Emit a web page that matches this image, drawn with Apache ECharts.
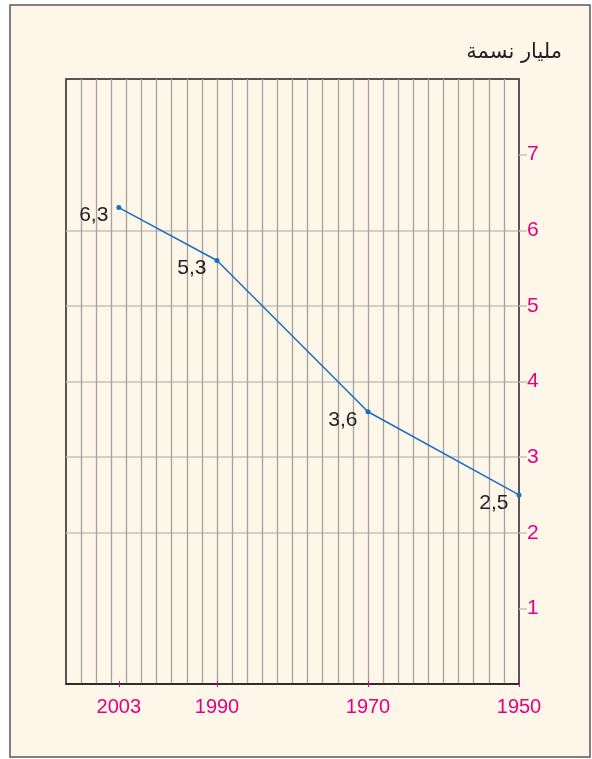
<!DOCTYPE html>
<html>
<head>
<meta charset="utf-8">
<script src="https://cdn.jsdelivr.net/npm/echarts@6/dist/echarts.min.js"></script>
<style>
  html, body { margin: 0; padding: 0; background: #fff; }
  #main { width: 592px; height: 759px; }
</style>
</head>
<body>
<div id="main"></div>
<script>
// Data
var years = [2003, 1990, 1970, 1950];
var population = [6.3, 5.6, 3.6, 2.5];
var pointLabels = ['6,3', '5,3', '3,6', '2,5'];
var yTicks = [1, 2, 3, 4, 5, 6, 7];
var unitText = 'مليار نسمة';

var magenta = '#e5007d';
var ink = '#231f20';

var myChart = echarts.init(document.getElementById('main'));

// shared x range: 1950 on the right, 2010 at the left edge
function yearAxis(extra) {
	var base = {
		type: 'value',
		min: 1950,
		max: 2010,
		interval: 2,
		inverse: true,
		position: 'bottom',
		axisLine: { show: false },
		axisTick: { show: false },
		axisLabel: { show: false },
		splitLine: { show: false }
	};
	for (var k in extra) base[k] = extra[k];
	return base;
}

var option = {
	backgroundColor: '#fff',
	animation: false,
	graphic: [{
		type: 'rect',
		z: -10,
		shape: { x: 10, y: 5, width: 580, height: 752 },
		style: { fill: '#fdf6e9', stroke: '#5a5758', lineWidth: 1.5 }
	}],
	title: {
		text: unitText,
		right: 25,
		top: 37,
		textStyle: {
			color: ink,
			fontSize: 21,
			fontWeight: 'normal',
			fontFamily: 'DejaVu Sans'
		}
	},
	grid: {
		left: 66,
		right: 73,
		top: 79,
		bottom: 75,
		show: true,
		backgroundColor: 'transparent',
		borderColor: ink,
		borderWidth: 1.5
	},
	xAxis: [
		// grid every 2 years + bottom line
		yearAxis({
			axisLine: { show: true, lineStyle: { color: ink, width: 1.5 } },
			splitLine: {
				show: true,
				showMinLine: false,
				showMaxLine: false,
				lineStyle: { color: '#a4a29e', width: 1.3 }
			}
		}),
		// year labels and outer ticks
		yearAxis({
			axisTick: {
				show: true,
				customValues: years,
				length: 3,
				lineStyle: { color: magenta, width: 1 }
			},
			axisLabel: {
				show: true,
				customValues: years,
				color: magenta,
				fontSize: 20,
				fontFamily: 'Liberation Sans',
				margin: 13,
				formatter: function (v) { return String(v); }
			}
		}),
		// inner half of the ticks
		yearAxis({
			axisTick: {
				show: true,
				customValues: years,
				inside: true,
				length: 3,
				lineStyle: { color: magenta, width: 1 }
			}
		})
	],
	yAxis: {
		type: 'value',
		min: 0,
		max: 8,
		interval: 1,
		position: 'right',
		axisLine: { show: true, lineStyle: { color: '#5a5758', width: 1.5 } },
		axisTick: {
			show: true,
			customValues: yTicks,
			length: 8,
			lineStyle: { color: '#c6c2ba', width: 1.5 }
		},
		axisLabel: {
			customValues: yTicks,
			color: magenta,
			fontSize: 21,
			fontFamily: 'Liberation Sans',
			margin: 8
		},
		splitLine: {
			show: true,
			showMinLine: false,
			showMaxLine: false,
			lineStyle: { color: '#c6c2ba', width: 1.5 }
		}
	},
	series: [{
		type: 'line',
		xAxisIndex: 0,
		data: years.map(function (y, i) { return [y, population[i]]; }),
		symbol: 'circle',
		symbolSize: 5,
		itemStyle: { color: '#1b6fc2' },
		lineStyle: { color: '#1b6fc2', width: 1.5 },
		label: {
			show: true,
			position: 'left',
			distance: 8,
			offset: [0, 8],
			color: ink,
			fontSize: 21,
			fontFamily: 'Liberation Sans',
			formatter: function (p) { return pointLabels[p.dataIndex]; }
		}
	}]
};

myChart.setOption(option);
</script>
</body>
</html>
